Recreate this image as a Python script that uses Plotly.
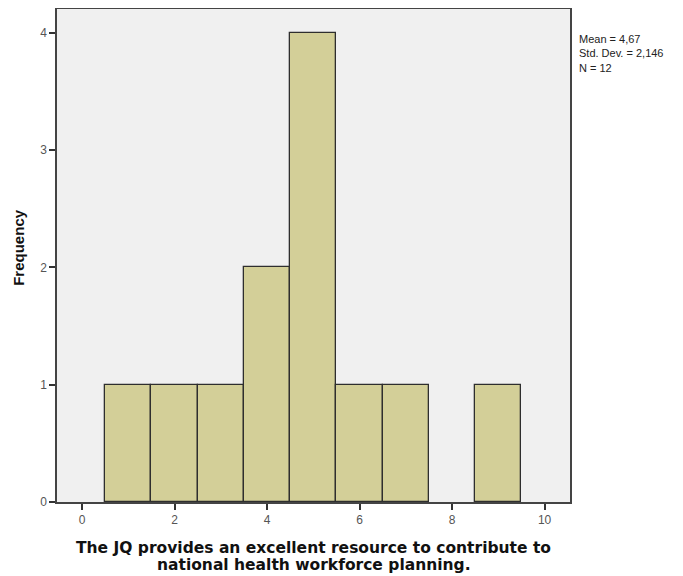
import plotly.graph_objects as go

bin_centers = [1, 2, 3, 4, 5, 6, 7, 8, 9]
frequencies = [1, 1, 1, 2, 4, 1, 1, 0, 1]
x_ticks = [0, 2, 4, 6, 8, 10]
y_ticks = [0, 1, 2, 3, 4]
stats_text = "Mean = 4,67<br>Std. Dev. = 2,146<br>N = 12"
x_title_lines = ["The JQ provides an excellent resource to contribute to",
                 "national health workforce planning."]
y_title = "Frequency"

# page body has an 8px default margin; work in window pixels and offset
OFF = 8
W, H = 683 - OFF, 576 - OFF
L, R, T, B = 57 - OFF, 570.5 - OFF, 9 - OFF, 502.5 - OFF

def px_x(p):
    return (p - OFF - L) / (R - L)

def px_y(p):
    return (B - (p - OFF)) / (B - T)

fig = go.Figure()
fig.add_trace(go.Bar(
    x=bin_centers, y=frequencies, width=1,
    marker=dict(color="#d3cf98",
                line=dict(color="#2e2e2e", width=[1.3 if v > 0 else 0 for v in frequencies])),
    showlegend=False,
))

sans = "Liberation Sans, Arial, sans-serif"
wide_bold = "DejaVu Sans, Verdana, sans-serif"

annotations = [dict(
    text=stats_text, xref="paper", yref="paper", x=px_x(578), y=px_y(31),
    xanchor="left", yanchor="top", align="left", showarrow=False,
    font=dict(size=11, color="#222222", family=sans),
)]
for line, cy in zip(x_title_lines, [548.5, 566]):
    annotations.append(dict(
        text="<b>" + line + "</b>", xref="paper", yref="paper", x=px_x(314), y=px_y(cy),
        xanchor="center", yanchor="middle", showarrow=False,
        font=dict(size=15.5, color="#111111", family=wide_bold),
    ))
annotations.append(dict(
    text="<b>" + y_title + "</b>", xref="paper", yref="paper", x=px_x(19), y=px_y(248),
    xanchor="center", yanchor="middle", showarrow=False, textangle=-90,
    font=dict(size=15, color="#111111", family=sans),
))

fig.update_layout(
    width=W, height=H,
    margin=dict(l=L, r=W - R, t=T, b=H - B, autoexpand=False),
    paper_bgcolor="white",
    plot_bgcolor="#f0f0f0",
    bargap=0,
    font=dict(family=sans, size=11, color="#444444"),
    xaxis=dict(
        range=[-0.54, 10.55], tickvals=x_ticks, ticks="outside", ticklen=6,
        tickwidth=1.5, tickcolor="#333333", showgrid=False, zeroline=False,
        showline=True, linecolor="#444444", linewidth=1.5, mirror=True,
        tickfont=dict(size=12, color="#555555"), automargin=False,
    ),
    yaxis=dict(
        range=[0, 4.204], tickvals=y_ticks, ticks="outside", ticklen=6,
        tickwidth=1.5, tickcolor="#333333", showgrid=False, zeroline=False,
        showline=True, linecolor="#444444", linewidth=1.5, mirror=True,
        tickfont=dict(size=12, color="#555555"), automargin=False,
    ),
    annotations=annotations,
)

fig.write_html("out.html")
